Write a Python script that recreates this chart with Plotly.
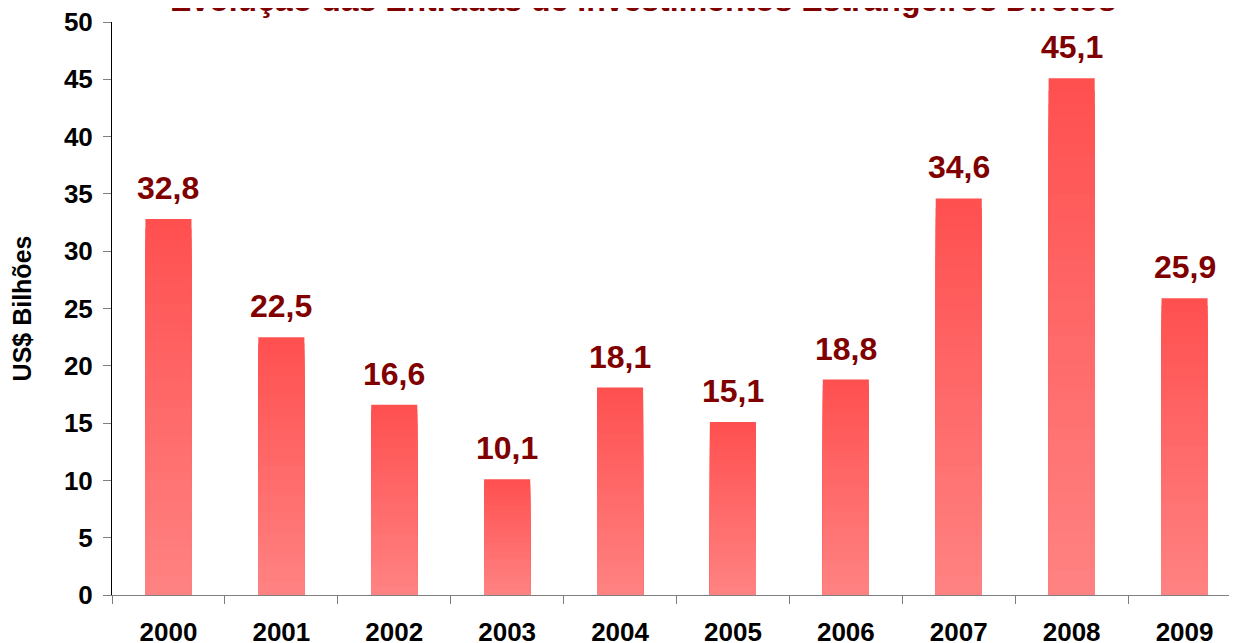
import plotly.graph_objects as go

# Entradas de IED, US$ bilhões
anos = ["2000", "2001", "2002", "2003", "2004", "2005", "2006", "2007", "2008", "2009"]
valores = [32.8, 22.5, 16.6, 10.1, 18.1, 15.1, 18.8, 34.6, 45.1, 25.9]
rotulos = ["32,8", "22,5", "16,6", "10,1", "18,1", "15,1", "18,8", "34,6", "45,1", "25,9"]

FONTE = "Liberation Sans, Arial, sans-serif"
VERMELHO_ESCURO = "#800000"
TOPO = (255, 80, 80)
BASE = (255, 130, 130)
N_CAMADAS = 40

fig = go.Figure()

# degradê vertical: barras sobrepostas, cada uma um pouco mais baixa e mais clara
for k in range(N_CAMADAS):
    t = k / (N_CAMADAS - 1)
    cor = "rgb({},{},{})".format(*[round(a + (b - a) * t) for a, b in zip(TOPO, BASE)])
    fator = 1 - k / N_CAMADAS
    fig.add_trace(go.Bar(
        x=anos, y=[v * fator for v in valores],
        marker=dict(color=cor, line=dict(width=0)),
        hoverinfo="skip" if k else "x+y",
        showlegend=False,
    ))

for i, (v, txt) in enumerate(zip(valores, rotulos)):
    fig.add_annotation(x=i, y=v, text="<b>" + txt + "</b>", showarrow=False,
                       yanchor="bottom", yshift=11,
                       font=dict(family=FONTE, size=32, color=VERMELHO_ESCURO))

fig.add_annotation(xref="paper", yref="paper", x=0.47, y=1, yshift=22,
                   yanchor="middle", showarrow=False,
                   text="<b>Evolução das Entradas de Investimentos Estrangeiros Diretos</b>",
                   font=dict(family=FONTE, size=32, color=VERMELHO_ESCURO))

fig.update_layout(
    barmode="overlay",
    bargap=0.592,
    width=1237, height=643,
    margin=dict(l=104, r=4, t=14, b=56),
    plot_bgcolor="white", paper_bgcolor="white",
    font=dict(family=FONTE, color="black"),
)
fig.update_xaxes(
    type="category", range=[-0.5, 9.5], automargin=False,
    showline=True, linecolor="#808080", linewidth=1,
    ticks="outside", tickson="boundaries", ticklen=8, tickcolor="#808080",
    ticklabelstandoff=14, ticklabeloverflow="allow",
    tickfont=dict(family=FONTE, size=26, color="black", weight="bold"),
    showgrid=False,
)
fig.update_yaxes(
    range=[0, 50], dtick=5, automargin=False,
    showline=True, linecolor="black", linewidth=1,
    ticks="outside", ticklen=8, tickcolor="#808080",
    ticklabelstandoff=5, ticklabeloverflow="allow",
    tickfont=dict(family=FONTE, size=26, color="black", weight="bold"),
    showgrid=False, zeroline=False,
    title=dict(text="<b>US$ Bilhões</b>", standoff=30,
               font=dict(family=FONTE, size=25, color="black")),
)

fig.write_html("out.html")
